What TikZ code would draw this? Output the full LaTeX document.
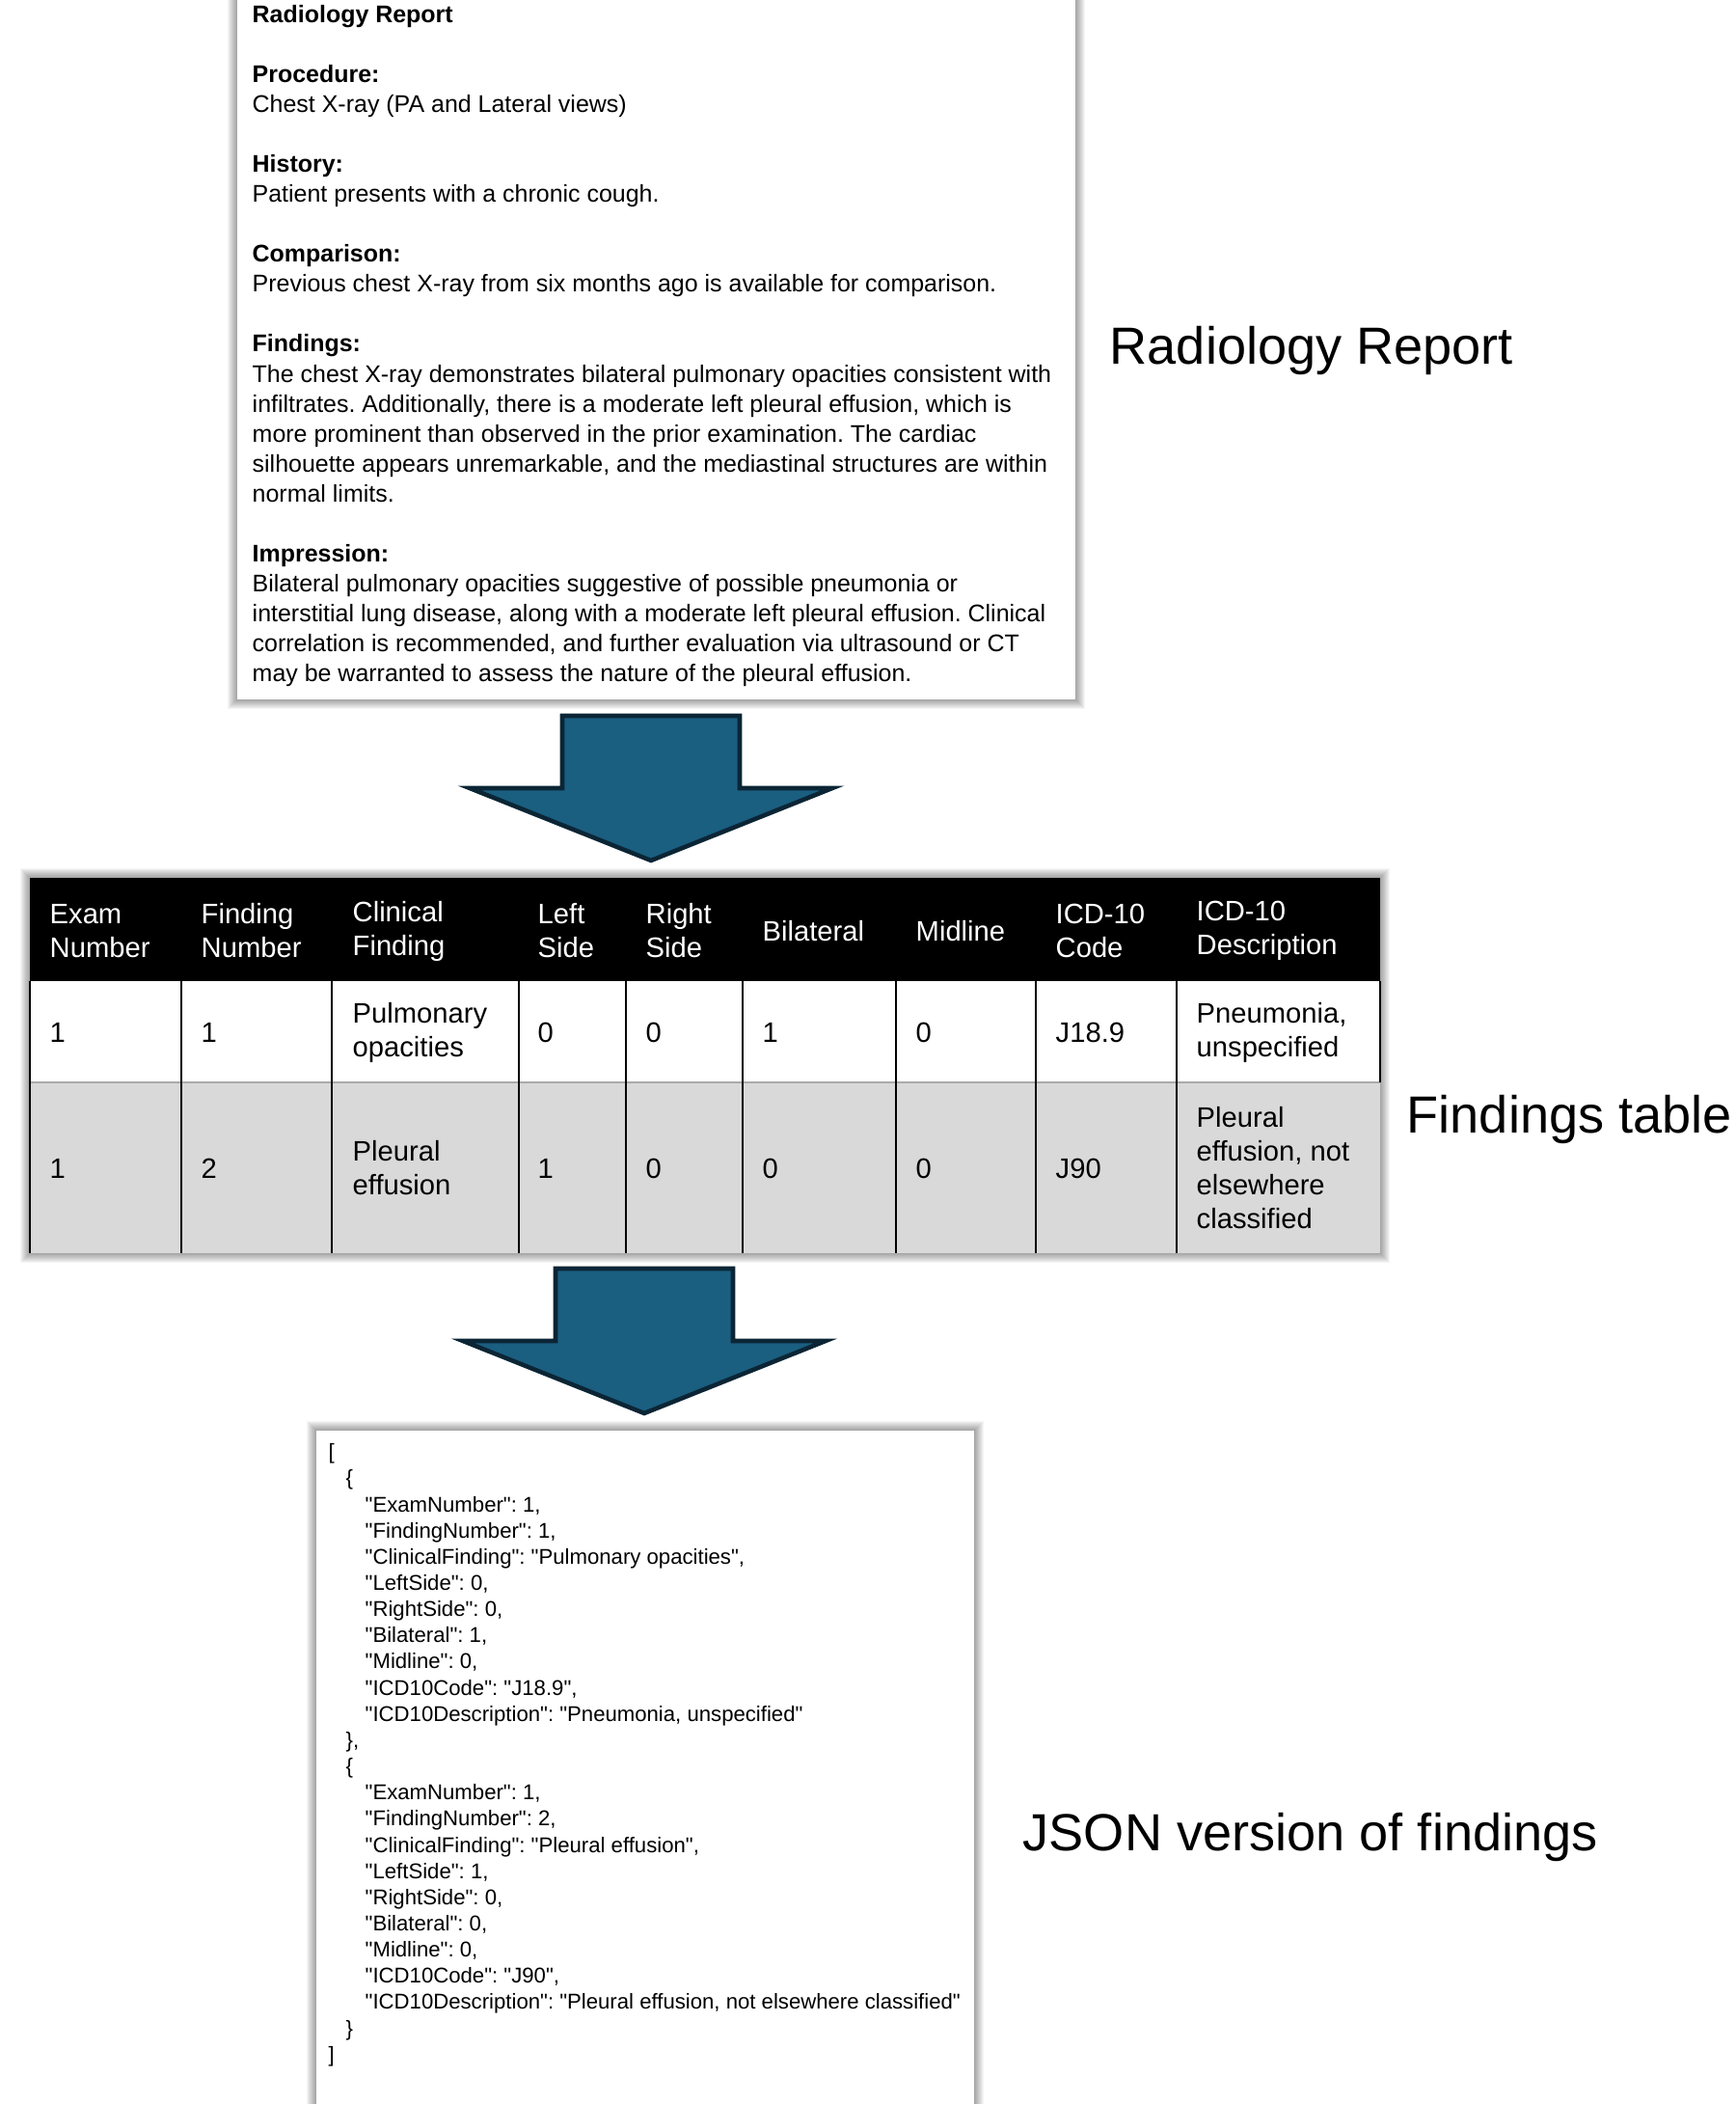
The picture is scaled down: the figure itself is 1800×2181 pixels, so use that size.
\documentclass[tikz,border=0pt]{standalone}
\usepackage{fontspec}
\setmainfont{Liberation Sans}
\newcommand{\dq}{\textquotedbl}
\frenchspacing
\definecolor{arrowfill}{RGB}{26,94,128}
\definecolor{arrowline}{RGB}{11,37,53}
\definecolor{rowgray}{RGB}{217,217,217}
\definecolor{rulegray}{RGB}{170,170,170}
\tikzset{
  halo/.style={fill=black, opacity=0.04},
  paper/.style={fill=white},
  reporttext/.style={anchor=north west, inner sep=0pt, align=left, font=\fontsize{7.1}{8.82}\selectfont},
  cell/.style={anchor=west, inner sep=0pt, align=left, font=\fontsize{8.3}{9.96}\selectfont},
  headcell/.style={cell, text=white},
  caption/.style={anchor=base west, inner sep=0pt, font=\fontsize{15.4}{18}\selectfont},
  jsontext/.style={anchor=north west, inner sep=0pt, align=left, font=\fontsize{6.3}{7.72}\selectfont},
  blockarrow/.style={fill=arrowfill, draw=arrowline, line width=1.3pt, line join=miter},
}
\begin{document}
\begin{tikzpicture}[x=0.01cm, y=-0.01cm]
\useasboundingbox (0,0) rectangle (1800,2181);
\fill[white] (0,0) rectangle (1800,2181);
\clip (0,0) rectangle (1800,2181);

\foreach \s in {1,...,10}
  \fill[halo] (246-\s,-20) rectangle (1115+\s,725+\s);
\fill[paper] (246,-20) rectangle (1115,725);
\node[reporttext] (report) at (261,5) {\textbf{Radiology Report}\\[8.82pt]
\textbf{Procedure:}\\
Chest X-ray (PA and Lateral views)\\[8.82pt]
\textbf{History:}\\
Patient presents with a chronic cough.\\[8.82pt]
\textbf{Comparison:}\\
Previous chest X-ray from six months ago is available for comparison.\\[8.82pt]
\textbf{Findings:}\\
The chest X-ray demonstrates bilateral pulmonary opacities consistent with\\
infiltrates. Additionally, there is a moderate left pleural effusion, which is\\
more prominent than observed in the prior examination. The cardiac\\
silhouette appears unremarkable, and the mediastinal structures are within\\
normal limits.\\[8.82pt]
\textbf{Impression:}\\
Bilateral pulmonary opacities suggestive of possible pneumonia or\\
interstitial lung disease, along with a moderate left pleural effusion. Clinical\\
correlation is recommended, and further evaluation via ultrasound or CT\\
may be warranted to assess the nature of the pleural effusion.};
\node[caption] (capReport) at (1150,377) {Radiology Report};

\foreach \s in {1,...,10}
  \fill[halo] (31-\s,910-\s) rectangle (1431+\s,1299+\s);
\fill[black] (31,910) rectangle (1431,1017);
\fill[white] (31,1017) rectangle (1431,1122);
\fill[rowgray] (31,1122) rectangle (1431,1299);
\draw[rulegray, line width=0.6pt] (31,1122) -- (1431,1122);
\foreach \cx in {31,188,344,538,649,770,929,1074,1220}
  \draw[black, line width=0.7pt] (\cx,1017) -- (\cx,1299);
\draw[black, line width=0.7pt] (1431,1017) -- (1431,1122);
\foreach \cx/\h [count=\i] in {51/{Exam\\Number}, 208/{Finding\\Number}, 365/{Clinical\\Finding},
    557/{Left\\Side}, 669/{Right\\Side}, 790/Bilateral, 949/Midline, 1094/{ICD-10\\Code},
    1240/{ICD-10\\Description}}
  \node[headcell] (head\i) at (\cx,965) {\h};
\foreach \cx/\a/\b [count=\i] in {51/1/1, 208/1/2, 365/{Pulmonary\\opacities}/{Pleural\\effusion},
    557/0/1, 669/0/0, 790/1/0, 949/0/0, 1094/J18.9/J90,
    1240/{Pneumonia,\\unspecified}/{Pleural\\effusion, not\\elsewhere\\classified}} {
  \node[cell] (rowA\i) at (\cx,1070) {\a};
  \node[cell] (rowB\i) at (\cx,1211) {\b};
}
\node[caption] (capTable) at (1458,1174) {Findings table};

\foreach \cx/\ty in {675/742, 668/1315}
  \draw[blockarrow] (\cx-92,\ty) -- (\cx+92,\ty) -- (\cx+92,\ty+75) -- (\cx+188,\ty+75)
    -- (\cx,\ty+150) -- (\cx-188,\ty+75) -- (\cx-92,\ty+75) -- cycle;

\foreach \s in {1,...,10}
  \fill[halo] (328-\s,1483-\s) rectangle (1010+\s,2200);
\fill[paper] (328,1483) rectangle (1010,2200);
\node[jsontext] (json) at (340,1496) {[\\
\hspace*{5.1pt}\{\\
\hspace*{10.8pt}\dq ExamNumber\dq: 1,\\
\hspace*{10.8pt}\dq FindingNumber\dq: 1,\\
\hspace*{10.8pt}\dq ClinicalFinding\dq: \dq Pulmonary opacities\dq,\\
\hspace*{10.8pt}\dq LeftSide\dq: 0,\\
\hspace*{10.8pt}\dq RightSide\dq: 0,\\
\hspace*{10.8pt}\dq Bilateral\dq: 1,\\
\hspace*{10.8pt}\dq Midline\dq: 0,\\
\hspace*{10.8pt}\dq ICD10Code\dq: \dq J18.9\dq,\\
\hspace*{10.8pt}\dq ICD10Description\dq: \dq Pneumonia, unspecified\dq\\
\hspace*{5.1pt}\},\\
\hspace*{5.1pt}\{\\
\hspace*{10.8pt}\dq ExamNumber\dq: 1,\\
\hspace*{10.8pt}\dq FindingNumber\dq: 2,\\
\hspace*{10.8pt}\dq ClinicalFinding\dq: \dq Pleural effusion\dq,\\
\hspace*{10.8pt}\dq LeftSide\dq: 1,\\
\hspace*{10.8pt}\dq RightSide\dq: 0,\\
\hspace*{10.8pt}\dq Bilateral\dq: 0,\\
\hspace*{10.8pt}\dq Midline\dq: 0,\\
\hspace*{10.8pt}\dq ICD10Code\dq: \dq J90\dq,\\
\hspace*{10.8pt}\dq ICD10Description\dq: \dq Pleural effusion, not elsewhere classified\dq\\
\hspace*{5.1pt}\}\\
]};
\node[caption] (capJson) at (1060,1918) {JSON version of findings};
\end{tikzpicture}
\end{document}
